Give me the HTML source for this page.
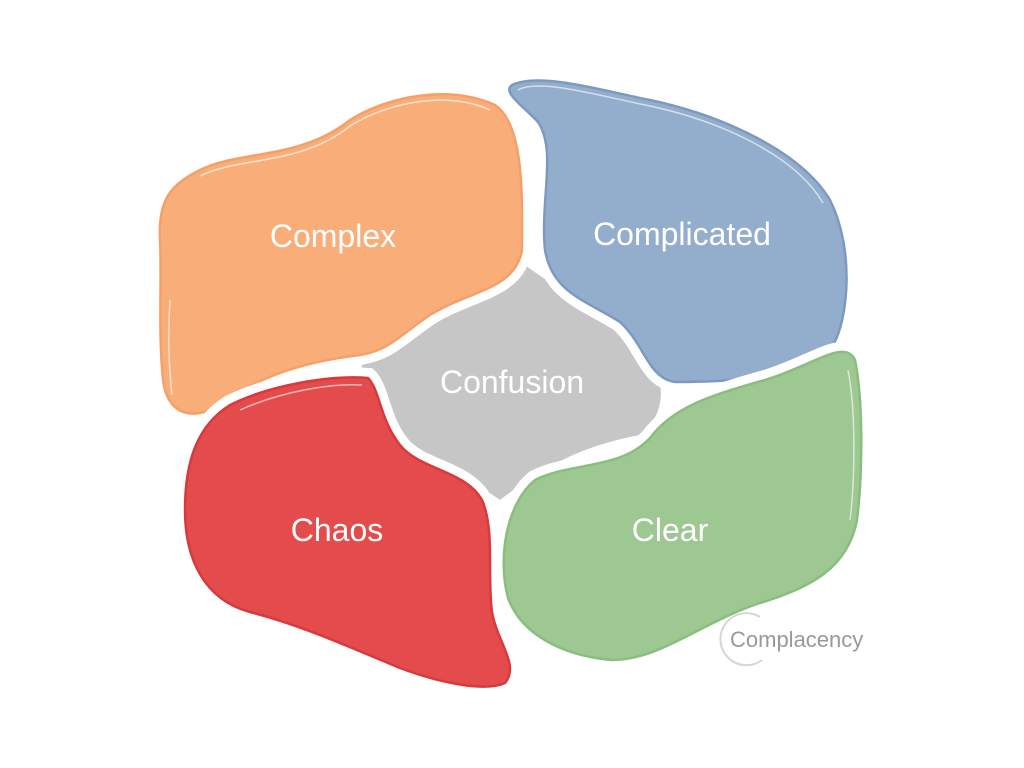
<!DOCTYPE html>
<html><head><style>
html,body{margin:0;padding:0;background:#fff;}
svg{display:block;}
text{font-family:"Liberation Sans",sans-serif;fill:#fff;}
</style></head><body>
<svg width="1024" height="768" viewBox="0 0 1024 768">
<path d="M370,345 C430,320 470,295 525,265 C565,295 610,315 650,360 C670,390 660,420 640,435 C585,445 545,465 500,500 C465,475 415,455 385,425 C360,395 355,365 370,345 Z" fill="#c6c6c6"/>
<path d="M200,170 C240,150 300,160 350,120 C390,95 450,85 495,105 C525,125 522,200 522,250 C515,290 470,290 430,315 C400,335 390,350 360,355 C300,362 260,378 230,398 C200,422 168,420 163,380 C158,330 162,280 160,240 C158,200 170,185 200,170 Z" fill="none" stroke="#fff" stroke-width="20"/>
<path d="M200,170 C240,150 300,160 350,120 C390,95 450,85 495,105 C525,125 522,200 522,250 C515,290 470,290 430,315 C400,335 390,350 360,355 C300,362 260,378 230,398 C200,422 168,420 163,380 C158,330 162,280 160,240 C158,200 170,185 200,170 Z" fill="#f9ae7a" stroke="#f4a068" stroke-width="2.5"/>
<path d="M512,85 C540,72 600,90 650,100 C720,115 800,150 830,200 C855,250 848,320 833,345 C810,378 730,382 675,382 C648,378 645,345 620,322 C585,300 552,292 545,250 C540,200 557,150 538,122 C522,105 502,92 512,85 Z" fill="none" stroke="#fff" stroke-width="20"/>
<path d="M512,85 C540,72 600,90 650,100 C720,115 800,150 830,200 C855,250 848,320 833,345 C810,378 730,382 675,382 C648,378 645,345 620,322 C585,300 552,292 545,250 C540,200 557,150 538,122 C522,105 502,92 512,85 Z" fill="#93aecc" stroke="#7d99c1" stroke-width="2.5"/>
<path d="M230,405 C270,385 330,375 368,378 C380,390 380,420 400,445 C420,470 465,470 482,500 C495,530 487,575 492,612 C497,642 520,665 505,683 C485,692 440,683 400,668 C340,643 300,625 250,612 C205,600 185,560 185,510 C185,460 198,425 230,405 Z" fill="none" stroke="#fff" stroke-width="20"/>
<path d="M230,405 C270,385 330,375 368,378 C380,390 380,420 400,445 C420,470 465,470 482,500 C495,530 487,575 492,612 C497,642 520,665 505,683 C485,692 440,683 400,668 C340,643 300,625 250,612 C205,600 185,560 185,510 C185,460 198,425 230,405 Z" fill="#e44b4c" stroke="#d63a3c" stroke-width="2.5"/>
<path d="M535,480 C570,462 620,470 650,438 C672,408 710,395 765,380 C812,366 845,338 855,360 C864,405 862,480 857,520 C848,568 810,588 760,603 C700,623 660,660 612,660 C565,656 522,636 508,598 C498,560 505,505 535,480 Z" fill="none" stroke="#fff" stroke-width="20"/>
<path d="M535,480 C570,462 620,470 650,438 C672,408 710,395 765,380 C812,366 845,338 855,360 C864,405 862,480 857,520 C848,568 810,588 760,603 C700,623 660,660 612,660 C565,656 522,636 508,598 C498,560 505,505 535,480 Z" fill="#9dc891" stroke="#8cbd80" stroke-width="2.5"/>
<g fill="none" stroke="#fff" stroke-opacity="0.6" stroke-width="1.5">
<path d="M200,176 C240,156 300,166 350,126 C390,101 450,91 490,110"/>
<path d="M170,300 C168,330 168,360 172,395"/>
<path d="M518,90 C540,78 600,96 650,106 C720,121 795,155 823,203"/>
<path d="M240,410 C280,392 330,383 362,385"/>
<path d="M848,370 C856,410 855,480 850,520"/>
</g>
<text x="333" y="247" font-size="32" text-anchor="middle">Complex</text>
<text x="682" y="245" font-size="32" text-anchor="middle">Complicated</text>
<text x="512" y="393" font-size="32" text-anchor="middle">Confusion</text>
<text x="337" y="541" font-size="32" text-anchor="middle">Chaos</text>
<text x="670" y="541" font-size="32" text-anchor="middle">Clear</text>
<path d="M760,617 A26,26 0 1 0 762,660" fill="none" stroke="#d6d6d6" stroke-width="2"/>
<text x="730" y="647" font-size="22" style="fill:#999">Complacency</text>
</svg>
</body></html>
